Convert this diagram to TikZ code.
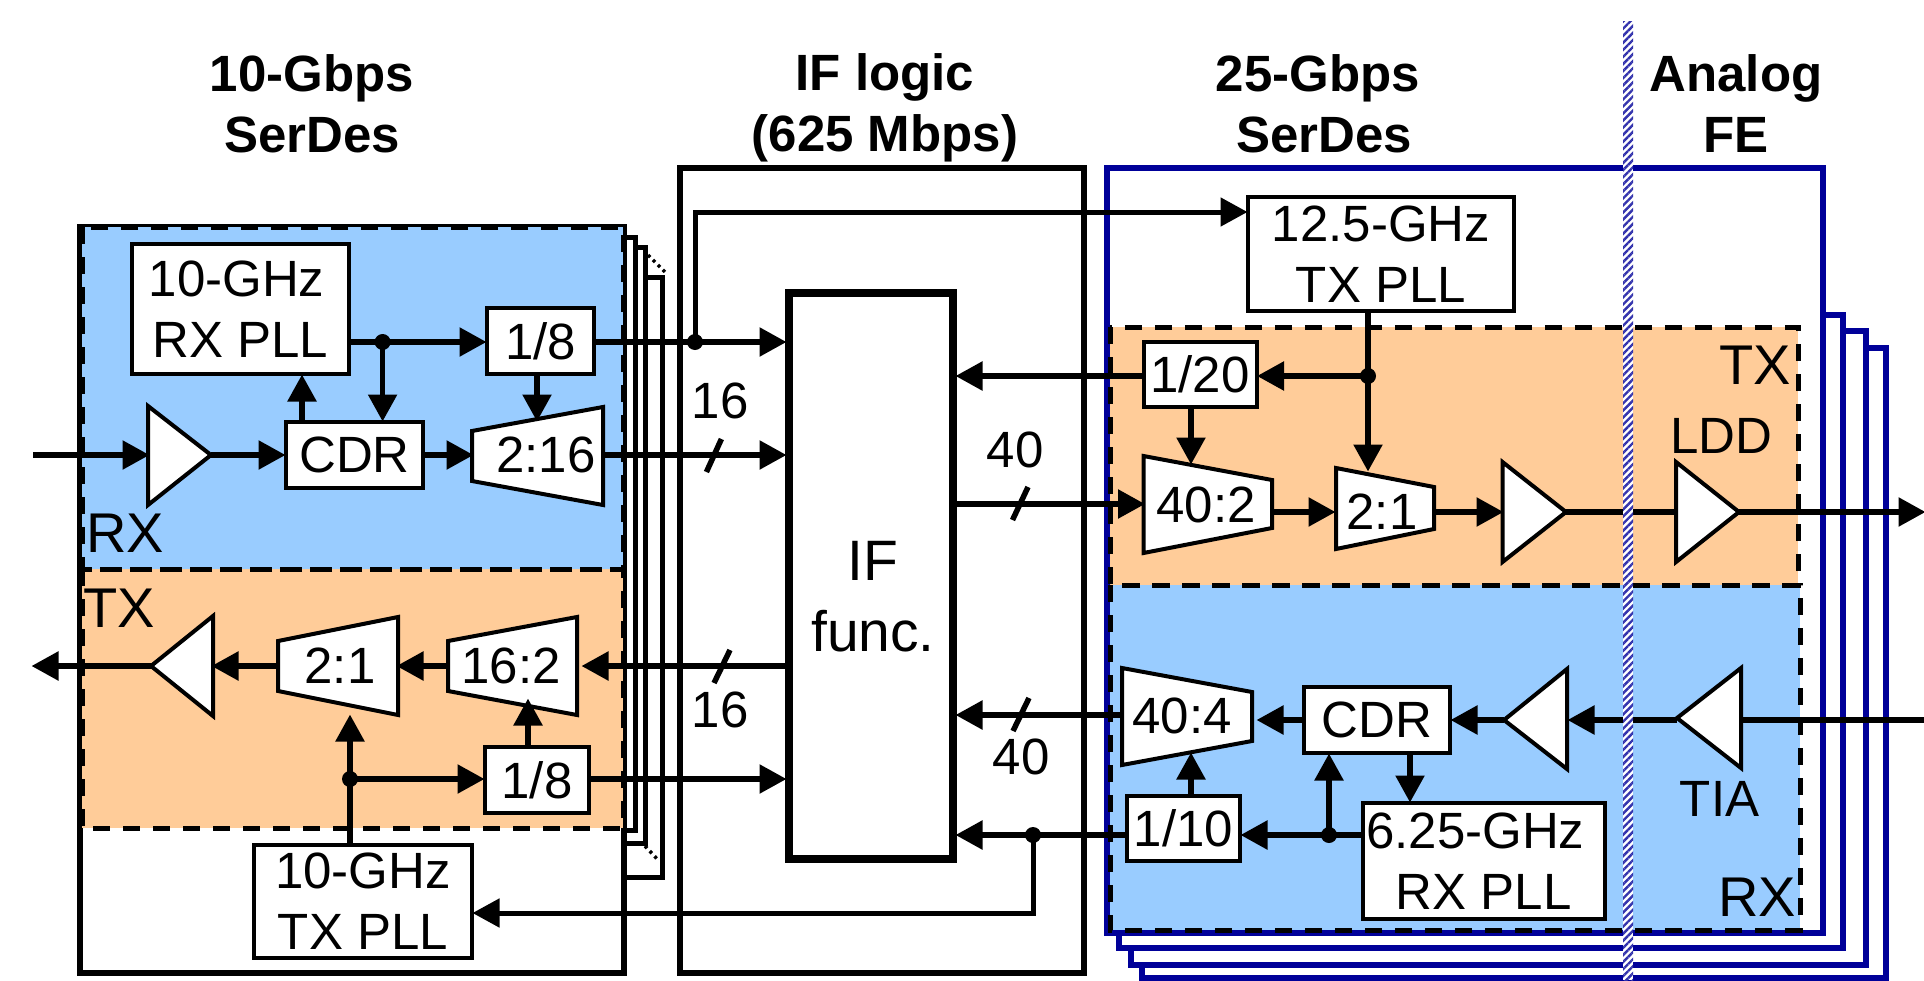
\documentclass[tikz,border=0pt]{standalone}
\usepackage{fontspec}
\setmainfont{Liberation Sans}
\usetikzlibrary{arrows.meta,patterns.meta}
\definecolor{rxblue}{RGB}{153,204,255}
\definecolor{txorange}{RGB}{255,204,153}
\definecolor{navyb}{RGB}{0,0,153}
\tikzset{
  outerbox/.style={draw=black,line width=5.5pt,fill=white},
  stackb/.style={draw=navyb,line width=6pt,fill=white},
  stackk/.style={draw=black,line width=5pt,fill=white},
  region/.style={draw=black,line width=5pt,dash pattern=on 17pt off 13pt},
  blk/.style={draw=black,line width=4pt,fill=white,inner sep=0pt,align=center,font=\fontsize{51}{61}\selectfont},
  part/.style={draw=black,line width=4pt,fill=white,line join=miter},
  lbl/.style={inner sep=0pt,align=center,font=\fontsize{51}{61}\selectfont},
  biglbl/.style={inner sep=0pt,font=\fontsize{56}{61}\selectfont},
  head/.style={inner sep=0pt,align=center,font=\fontsize{51}{61}\selectfont\bfseries},
  sig/.style={line width=5.5pt,shorten >=-1.5pt,-{Triangle[length=27pt,width=28pt]}},
  wire/.style={line width=5.5pt},
  thin wire/.style={line width=5pt,shorten >=-1.5pt,-{Triangle[length=27pt,width=28pt]}},
  slash/.style={line width=5.5pt},
  junction/.style={circle,fill=black,inner sep=0pt,minimum size=16pt},
}
\newcommand{\bx}[6]{\node[blk,minimum width=#4pt-#2pt,minimum height=#5pt-#3pt] (#1) at ({(#2+#4)/2},{(#3+#5)/2}) {#6};}
\begin{document}
\begin{tikzpicture}[x=1pt,y=-1pt]
\useasboundingbox (0,0) rectangle (1924,980);
\fill[white] (0,0) rectangle (1924,980);

% headings
\node[head] (h1) at (312,104) {10-Gbps\\SerDes};
\node[head] (h2) at (885,108) {IF logic\\(625 Mbps)};
\node[head] (h3) at (1324,104) {25-Gbps\kern 12pt\\SerDes};
\node[head] (h4) at (1736,104) {Analog\\FE};

% middle container
\draw[outerbox] (680,168) rectangle (1084,973);

% left stack
\draw[stackk] (600,277) rectangle (662,877);
\draw[stackk] (600,247) rectangle (645,843);
\draw[stackk] (600,237) rectangle (635,830);
\draw[line width=3.5pt,dash pattern=on 3pt off 4pt] (648,255) -- (665,272);
\draw[line width=3.5pt,dash pattern=on 3pt off 4pt] (645,846) -- (659,861);
\draw[outerbox] (80,227) rectangle (624,973);
\fill[rxblue] (82,227) rectangle (623,569);
\fill[txorange] (82,569) rectangle (623,828);
\draw[region] (82,227) rectangle (623,569);
\draw[region] (82,569) rectangle (623,828);

% right stack
\draw[stackb] (1142,348) rectangle (1886,978);
\draw[stackb] (1131,331) rectangle (1866,965);
\draw[stackb] (1119,315) rectangle (1843,948);
\draw[stackb] (1107,168) rectangle (1823,933);
\fill[txorange] (1110,327) rectangle (1798,585);
\fill[rxblue] (1110,585) rectangle (1800,930);
\draw[region] (1110,327) rectangle (1798,585);
\draw[region] (1110,585) rectangle (1800,930);

% IF block
\node[draw=black,line width=8pt,fill=white,inner sep=0pt,minimum width=164pt,minimum height=566pt] (iff) at (871,576) {};
\node[inner sep=0pt,align=center,font=\fontsize{57}{71}\selectfont] (ifftext) at (873,597) {IF\\func.};

% left RX blocks
\bx{rxpll}{132}{244}{349}{374}{10-GHz\kern 8pt\\RX PLL}
\bx{rxdiv}{487}{308}{594}{374}{1/8}
\bx{rxcdr}{286}{422}{423}{488}{CDR}
\draw[part] (148,406) -- (211,455) -- (148,505) -- cycle;
\draw[part] (472,431) -- (603,407) -- (603,505) -- (472,481) -- cycle;
\node[lbl] (dmx216) at (546,455) {2:16};
\node[biglbl,anchor=base west] (rxl) at (86,552) {RX};

% left TX blocks
\bx{txpll}{254}{845}{472}{958}{10-GHz\\TX PLL}
\bx{txdiv}{485}{747}{589}{813}{1/8}
\draw[part] (151,666) -- (213,616) -- (213,716) -- cycle;
\draw[part] (278,641) -- (398,617) -- (398,715) -- (278,691) -- cycle;
\draw[part] (448,641) -- (577,617) -- (577,715) -- (448,691) -- cycle;
\node[lbl] (mx21l) at (340,666) {2:1};
\node[lbl] (mx162) at (511,666) {16:2};
\node[biglbl,anchor=base west] (txl) at (83,627) {TX};

% right TX blocks
\bx{ttpll}{1248}{197}{1514}{311}{12.5-GHz\\TX PLL}
\bx{ttdiv}{1143.5}{342}{1256.5}{407}{1/20}
\draw[part] (1143.5,456) -- (1272,480) -- (1272,528) -- (1143.5,553) -- cycle;
\draw[part] (1336,468) -- (1434,487) -- (1434,529) -- (1336,549) -- cycle;
\draw[part] (1502.5,462) -- (1566,512) -- (1502.5,562) -- cycle;
\draw[part] (1676,462) -- (1739,512) -- (1676,562) -- cycle;
\node[lbl] (mx402) at (1206,505) {40:2};
\node[lbl] (mx21r) at (1382,512) {2:1};
\node[biglbl,anchor=base east] (txr) at (1791,384) {TX};
\node[lbl,anchor=base] (ldd) at (1721.5,453) {LDD};

% right RX blocks
\bx{rrcdr}{1304}{687}{1450}{753}{CDR}
\bx{rrdiv}{1127}{796}{1240}{861}{1/10}
\bx{rrpll}{1362.5}{803}{1605}{919}{6.25-GHz\kern 17pt\\RX PLL}
\draw[part] (1122,668) -- (1252,692) -- (1252,741) -- (1122,765) -- cycle;
\draw[part] (1504,720) -- (1567,669) -- (1567,769) -- cycle;
\draw[part] (1677,718) -- (1741,668) -- (1741,768) -- cycle;
\node[lbl] (dm404) at (1182,716) {40:4};
\node[biglbl,anchor=base east] (rxr) at (1796,916) {RX};
\node[lbl,anchor=base] (tia) at (1719.5,816) {TIA};

% connector end points
\coordinate (linL) at (33,455);
\coordinate (ampLi) at (148,455);
\coordinate (ampLo) at (211,455);
\coordinate (d216i) at (472,455);
\coordinate (d216o) at (603,455);
\coordinate (d216t) at (537,420);
\coordinate (c302) at (302,400);
\coordinate (j1) at (382.6,342);
\coordinate (j2) at (695,342);
\coordinate (j3) at (350,779);
\coordinate (j4) at (1368,376);
\coordinate (j5) at (1329,835);
\coordinate (j6) at (1033,835);
\coordinate (outL) at (33,666);
\coordinate (ampTo) at (151,666);
\coordinate (ampTi) at (213,666);
\coordinate (m21o) at (278,666);
\coordinate (m21i) at (398,666);
\coordinate (m21b) at (350,716);
\coordinate (m162o) at (448,666);
\coordinate (m162i) at (583,666);
\coordinate (m162b) at (528,700);
\coordinate (top1) at (695,212);
\coordinate (m402i) at (1143.5,504);
\coordinate (m402o) at (1272,512);
\coordinate (m402t) at (1191,463);
\coordinate (r21i) at (1334,512);
\coordinate (r21o) at (1434,512);
\coordinate (r21t) at (1368,470);
\coordinate (a3i) at (1502,512);
\coordinate (a3o) at (1566,512);
\coordinate (a4i) at (1676,512);
\coordinate (a4o) at (1739,512);
\coordinate (outR) at (1924,512);
\coordinate (inR) at (1924,720);
\coordinate (a6i) at (1741,720);
\coordinate (a6o) at (1677,720);
\coordinate (a5i) at (1569,720);
\coordinate (a5o) at (1504,720);
\coordinate (d404i) at (1258,720);
\coordinate (d404o) at (1122,715);
\coordinate (d404b) at (1191,754);
\coordinate (c1410) at (1410,780);
\coordinate (bot) at (1033,913);

% left RX connectors
\draw[sig] (linL) -- (ampLi);
\draw[sig] (ampLo) -- (rxcdr.west |- ampLo);
\draw[sig] (rxcdr.east |- d216i) -- (d216i);
\draw[sig] (rxcdr.north -| c302) -- (rxpll.south -| c302);
\draw[wire] (rxpll.east |- j1) -- (j1);
\draw[sig] (j1) -- (rxdiv.west |- j1);
\draw[sig] (j1) -- (j1 |- rxcdr.north);
\draw[sig] (rxdiv.south -| d216t) -- (d216t);
\draw[wire] (rxdiv.east |- j2) -- (j2);
\draw[sig] (j2) -- (iff.west |- j2);
\draw[sig] (d216o) -- (iff.west |- d216o);
\draw[thin wire] (j2) -- (top1) -- (ttpll.west |- top1);

% left TX connectors
\draw[sig] (ampTo) -- (outL);
\draw[sig] (m21o) -- (ampTi);
\draw[sig] (m162o) -- (m21i);
\draw[sig] (iff.west |- m162i) -- (m162i);
\draw[sig] (txdiv.north -| m162b) -- (m162b);
\draw[wire] (txpll.north -| j3) -- (j3);
\draw[sig] (j3) -- (m21b);
\draw[sig] (j3) -- (txdiv.west |- j3);
\draw[sig] (txdiv.east |- j3) -- (iff.west |- j3);

% right TX connectors
\draw[wire] (ttpll.south -| j4) -- (j4);
\draw[sig] (j4) -- (ttdiv.east |- j4);
\draw[sig] (j4) -- (r21t);
\draw[sig] (ttdiv.west |- j4) -- (iff.east |- j4);
\draw[sig] (ttdiv.south -| m402t) -- (m402t);
\draw[sig] (iff.east |- m402i) -- (m402i);
\draw[sig] (m402o) -- (r21i);
\draw[sig] (r21o) -- (a3i);
\draw[wire] (a3o) -- (a4i);
\draw[sig] (a4o) -- (outR);

% right RX connectors
\draw[wire] (inR) -- (a6i);
\draw[sig] (a6o) -- (a5i);
\draw[sig] (a5o) -- (rrcdr.east |- a5o);
\draw[sig] (rrcdr.west |- d404i) -- (d404i);
\draw[sig] (d404o) -- (iff.east |- d404o);
\draw[sig] (rrdiv.north -| d404b) -- (d404b);
\draw[wire] (rrpll.west |- j5) -- (j5);
\draw[sig] (j5) -- (rrdiv.east |- j5);
\draw[sig] (j5) -- (j5 |- rrcdr.south);
\draw[sig] (rrcdr.south -| c1410) -- (rrpll.north -| c1410);
\draw[sig] (rrdiv.west |- j6) -- (iff.east |- j6);
\draw[thin wire] (j6) -- (bot) -- (txpll.east |- bot);

% junction dots
\foreach \j in {j1,j2,j3,j4,j5,j6} \node[junction] at (\j) {};

% bus slashes and widths
\draw[slash] (706.4,472) -- (721.4,439);
\draw[slash] (1012.5,520) -- (1028,487);
\draw[slash] (714,683) -- (730,650);
\draw[slash] (1013,731) -- (1029,698);
\node[lbl] (n16a) at (720,401) {16};
\node[lbl] (n40a) at (1015,450) {40};
\node[lbl] (n16b) at (720,710) {16};
\node[lbl] (n40b) at (1021,757) {40};

% divider
\fill[white] (1623,21) rectangle (1633,980);
\fill[pattern={Lines[angle=45,distance=5pt,line width=2.4pt]},pattern color=navyb!80!white] (1623,21) rectangle (1633,980);
\end{tikzpicture}
\end{document}
